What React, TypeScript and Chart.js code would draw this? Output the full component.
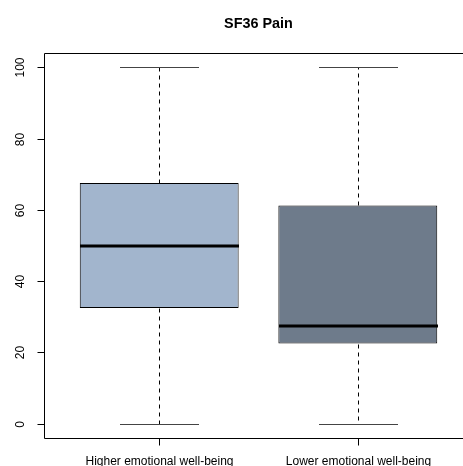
import React, { useEffect, useRef } from "react";
import { Chart, registerables } from "chart.js";

Chart.register(...registerables);

const title = "SF36 Pain";
const categories = ["Higher emotional well-being", "Lower emotional well-being"];
const positions = [1, 2];
const mins = [0, 0];
const q1s = [32.5, 22.5];
const medians = [50, 27.5];
const q3s = [67.5, 61.25];
const maxs = [100, 100];
const yTicks = [0, 20, 40, 60, 80, 100];
const fills = ["#A2B5CD", "#6E7B8B"];

const FONT = '"Liberation Sans", Arial, Helvetica, sans-serif';

const rPlot = {
  id: "rPlot",
  afterDatasetsDraw(chart: any) {
    const ctx = chart.ctx as CanvasRenderingContext2D;
    const xs = chart.scales.x;
    const ys = chart.scales.y;
    const ca = chart.chartArea;
    const cx = (v: number) => Math.round(xs.getPixelForValue(v)) + 0.5;
    const cy = (v: number) => Math.round(ys.getPixelForValue(v)) + 0.5;
    ctx.save();
    ctx.strokeStyle = "#000";
    ctx.fillStyle = "#000";
    ctx.lineWidth = 1;

    positions.forEach((p, i) => {
      const x = cx(p);
      const halfCap = xs.getPixelForValue(p + 0.2) - xs.getPixelForValue(p);
      const halfBox = xs.getPixelForValue(p + 0.4) - xs.getPixelForValue(p);
      // whiskers (dashed)
      ctx.setLineDash([4, 4]);
      ctx.beginPath();
      ctx.moveTo(x, cy(q3s[i]));
      ctx.lineTo(x, cy(maxs[i]));
      ctx.moveTo(x, cy(q1s[i]));
      ctx.lineTo(x, cy(mins[i]));
      ctx.stroke();
      ctx.setLineDash([]);
      // caps
      ctx.strokeStyle = "#444";
      ctx.beginPath();
      ctx.moveTo(Math.round(x - halfCap), cy(maxs[i]));
      ctx.lineTo(Math.round(x + halfCap), cy(maxs[i]));
      ctx.moveTo(Math.round(x - halfCap), cy(mins[i]));
      ctx.lineTo(Math.round(x + halfCap), cy(mins[i]));
      ctx.stroke();
      ctx.strokeStyle = "#000";
      // median
      ctx.lineWidth = 3;
      const my = Math.round(ys.getPixelForValue(medians[i]));
      ctx.beginPath();
      ctx.moveTo(Math.round(x - halfBox), my);
      ctx.lineTo(Math.round(x + halfBox), my);
      ctx.stroke();
      ctx.lineWidth = 1;
    });

    // frame
    const L = Math.round(ca.left) + 0.5;
    const T = Math.round(ca.top) + 0.5;
    const R = Math.round(ca.right) + 0.5;
    const B = Math.round(ca.bottom) + 0.5;
    ctx.beginPath();
    ctx.rect(L, T, R - L, B - T);
    ctx.stroke();

    // y axis ticks and labels
    ctx.font = `12px ${FONT}`;
    ctx.textAlign = "center";
    ctx.textBaseline = "middle";
    yTicks.forEach((t) => {
      const y = cy(t);
      ctx.beginPath();
      ctx.moveTo(L - 7, y);
      ctx.lineTo(L, y);
      ctx.stroke();
      ctx.save();
      ctx.translate(21, y);
      ctx.rotate(-Math.PI / 2);
      ctx.fillText(String(t), 0, 0);
      ctx.restore();
    });

    // x axis ticks and labels
    ctx.textBaseline = "alphabetic";
    positions.forEach((p, i) => {
      const x = cx(p);
      ctx.beginPath();
      ctx.moveTo(x, B);
      ctx.lineTo(x, B + 7);
      ctx.stroke();
      ctx.fillText(categories[i], x, B + 26.5);
    });

    // title
    ctx.font = `bold 14.4px ${FONT}`;
    ctx.fillText(title, (ca.left + ca.right) / 2, 28);
    ctx.restore();
  },
};

export default function App() {
  const ref = useRef<HTMLCanvasElement>(null);
  useEffect(() => {
    const chart = new Chart(ref.current!, {
      type: "bar",
      data: {
        datasets: [
          {
            data: positions.map((p, i) => ({ x: p, y: [q1s[i], q3s[i]] })) as any,
            backgroundColor: fills,
            borderColor: "#000",
            borderWidth: 1,
            borderSkipped: false,
            barPercentage: 0.8,
            categoryPercentage: 1,
          },
        ],
      },
      options: {
        responsive: false,
        animation: false,
        events: [],
        layout: { padding: { left: 44, top: 53, right: 27, bottom: 28 } },
        plugins: { legend: { display: false }, title: { display: false }, tooltip: { enabled: false } },
        scales: {
          x: {
            type: "linear",
            min: 0.42,
            max: 2.58,
            display: false,
            offset: false,
            afterBuildTicks: (s: any) => {
              s.ticks = positions.map((v) => ({ value: v }));
            },
          },
          y: { type: "linear", min: -4, max: 104, display: false },
        },
      },
      plugins: [rPlot],
    });
    return () => chart.destroy();
  }, []);
  return (
    <div style={{ position: "fixed", left: 0, top: 0, width: 463, height: 466, overflow: "hidden", background: "#fff" }}>
      <canvas ref={ref} width={500} height={466} style={{ width: 500, height: 466, display: "block" }} />
    </div>
  );
}
